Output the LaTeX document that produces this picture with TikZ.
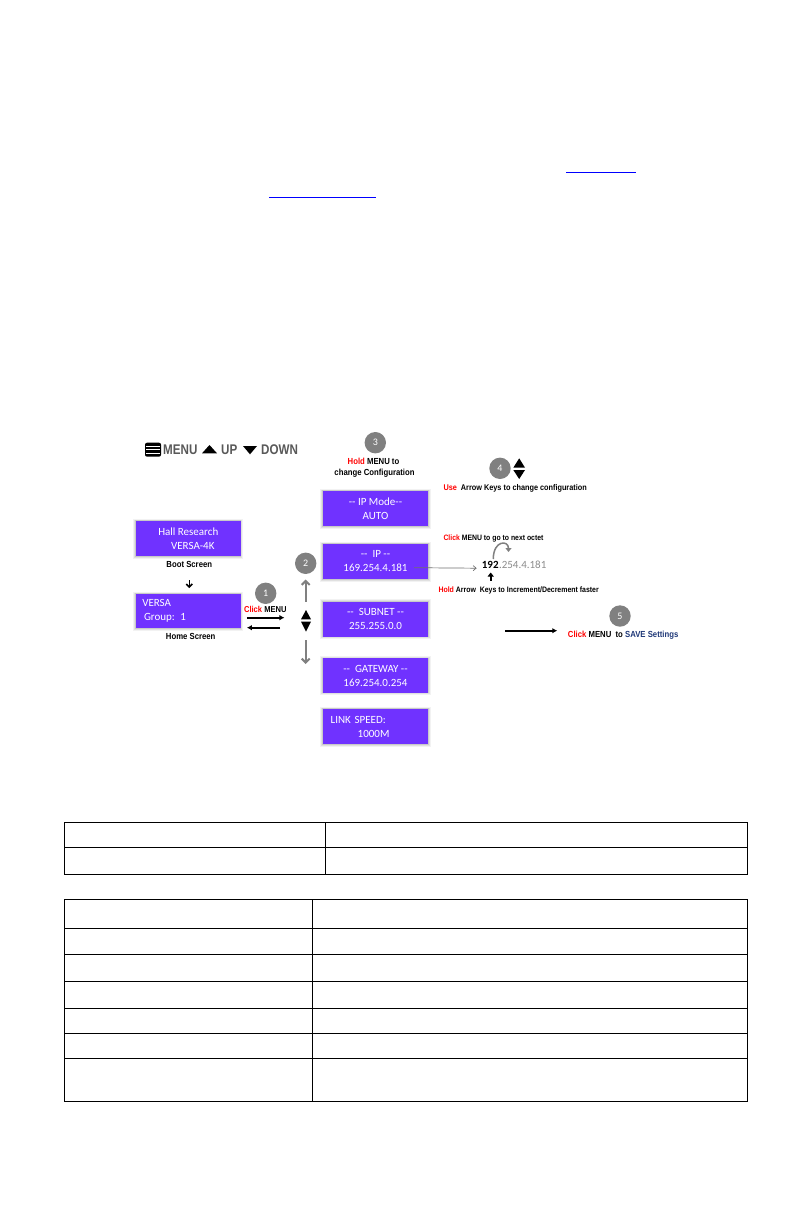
\documentclass[tikz,border=0pt]{standalone}
\usepackage{fontspec}
\setmainfont{Liberation Sans}
\newfontfamily\lblfont{Liberation Sans}[FakeStretch=0.88]
\newfontfamily\hdrfont{Liberation Sans}[FakeStretch=0.83]
\newfontfamily\boxfont{Carlito}
\usetikzlibrary{arrows.meta}
\definecolor{scr}{RGB}{112,50,255}
\definecolor{cgray}{RGB}{128,128,128}
\definecolor{agray}{RGB}{128,128,128}
\definecolor{hgray}{RGB}{89,89,89}
\definecolor{cred}{RGB}{255,0,0}
\definecolor{sblue}{RGB}{31,56,120}
\definecolor{lnk}{RGB}{0,0,255}
\definecolor{ipgray}{RGB}{140,140,140}
\tikzset{
  screen/.style={fill=scr, minimum width=105.6pt, minimum height=35pt, inner sep=0pt,
    text=white, font=\boxfont\fontsize{11}{14}\selectfont, align=center,
    preaction={draw=black, draw opacity=0.05, line width=5pt},
    preaction={draw=black, draw opacity=0.07, line width=3pt},
    preaction={draw=black, draw opacity=0.10, line width=1.5pt}},
  badge/.style={circle, fill=cgray, minimum size=21.4pt, inner sep=0pt, text=white,
    font=\boxfont\fontsize{10}{12}\selectfont},
  lbl/.style={inner sep=0pt, font=\lblfont\bfseries\fontsize{8.8}{10}\selectfont},
  hdr/.style={inner sep=0pt, text=hgray, font=\hdrfont\bfseries\fontsize{14}{16}\selectfont},
  blk/.style={line width=1.6pt, -{Latex[length=5pt,width=5.5pt]}},
  gry/.style={draw=agray, line width=2pt, -{Straight Barb[length=4pt,width=8pt]}},
  tblline/.style={line width=0.9pt},
}
\begin{document}
\begin{tikzpicture}[x=1pt,y=-1pt]
\path[use as bounding box, fill=white] (0,0) rectangle (793,1225);

% blue link underlines
\draw[lnk, line width=1pt] (566,172.7) -- (636,172.7);
\draw[lnk, line width=1pt] (269,197) -- (376,197);

% header legend
\fill[black, rounded corners=2pt] (145,442.7) rectangle (161,456.7);
\foreach \yy in {446.2,449.7,453.2}
  \draw[white, line width=0.9pt] (146.3,\yy) -- (159.7,\yy);
\node[hdr, anchor=base west] (menuword) at (163,454.5) {MENU};
\fill (202,453.3) -- (217,453.3) -- (209.5,445) -- cycle;
\node[hdr, anchor=base west] (upword) at (221,454.5) {UP};
\fill (243,446) -- (257,446) -- (250,454.3) -- cycle;
\node[hdr, anchor=base west] (downword) at (261,454.5) {DOWN};

% screens
\node[screen] (ipmode) at (375.5,508.5) {-{}- IP Mode-{}-\\AUTO};
\node[screen] (ip) at (375.5,561.5) {-{}-\ \ IP -{}-\\169.254.4.181};
\node[screen] (subnet) at (375.5,619.2) {-{}-\ \ SUBNET -{}-\\255.255.0.0};
\node[screen, minimum height=34.4pt] (gateway) at (375.5,675.5) {-{}-\ \ GATEWAY -{}-\\169.254.0.254};
\node[screen, align=left, text width=89.6pt] (linkspeed) at (375.5,726.7) {LINK SPEED:\\\hspace*{27pt}1000M};
\node[screen, minimum width=104.7pt] (hall) at (188.3,538.5) {Hall Research\\\hspace*{9pt}VERSA-4K};
\node[screen, minimum width=104.7pt, minimum height=34.3pt, align=left, text width=92pt] (versa) at (188.3,611.2) {VERSA\\\hspace*{1.7pt}Group: 1};

% left labels
\node[lbl, anchor=base] (boot) at (189.3,567.3) {Boot Screen};
\node[lbl, anchor=base] (home) at (190.7,639.6) {Home Screen};
\draw[line width=1.6pt, -{Straight Barb[length=3pt,width=6pt]}, shorten <=12.7pt, shorten >=5.7pt] (boot.south) -- (boot.south |- versa.north);

% step 1
\node[badge] (n1) at (265.7,593.3) {1};
\node[lbl, anchor=base, font=\lblfont\bfseries\fontsize{8.6}{10}\selectfont] (clickmenu) at (265.3,612.1) {\textcolor{cred}{Click} MENU};
\draw[blk] ([xshift=6pt,yshift=-6.5pt]versa.east) -- ++(37.6,0);
\draw[blk] ([xshift=39.3pt,yshift=-16.5pt]versa.east) -- ++(-33.3,0);

% step 2 : arrow keys
\coordinate (keys) at (306,620.8);
\fill (301,619.3) -- (311,619.3) -- (306,610) -- cycle;
\fill (301,621.7) -- (311,621.7) -- (306,631.7) -- cycle;
\node[badge] (n2) at (305.7,563.3) {2};
\draw[gry, shorten >=5.3pt] (305.7,601.7) -- (n2.south);
\draw[gry] (305.7,640) -- (305.7,664);

% step 3
\node[badge] (n3) at (375.3,442.7) {3};
\node[lbl, anchor=base] (hold3) at (373.5,464.5) {\textcolor{cred}{Hold} MENU to};
\node[lbl, anchor=base] (conf3) at (374.5,475.5) {change Configuration};

% step 4
\node[badge] (n4) at (500,468.3) {4};
\fill (513.3,467.7) -- (525,467.7) -- (519.2,458.3) -- cycle;
\fill (513.3,470) -- (525,470) -- (519.2,479) -- cycle;
\node[lbl, anchor=base west, font=\lblfont\bfseries\fontsize{8.3}{10}\selectfont] (use) at (443.3,490) {\textcolor{cred}{Use}\ \ Arrow Keys to change configuration};
\node[lbl, anchor=base west, font=\lblfont\bfseries\fontsize{7.8}{10}\selectfont] (clicknext) at (443.3,540) {\textcolor{cred}{Click} MENU to go to next octet};

% octet display
\node[inner sep=0pt, anchor=base west, font=\boxfont\bfseries\fontsize{11}{13}\selectfont] (oct1) at (481.7,568.5) {192};
\node[inner sep=0pt, anchor=base west, text=ipgray, font=\boxfont\fontsize{11}{13}\selectfont] (octrest) at (oct1.base east) {.254.4.181};
\coordinate (ipend) at (414,567.7);
\draw[ipgray!80!black, line width=0.7pt, -{Straight Barb[length=3pt,width=5pt]}] (ipend) -- ([xshift=-5pt,yshift=-3.3pt]oct1.west);
\draw[agray, line width=1.5pt, -{Triangle[length=4pt,width=6pt]}] (493.3,559) .. controls (493.3,540) and (508.5,540) .. (508.5,552);
\draw[line width=1.6pt, -{Triangle[length=4pt,width=6pt]}] (490.7,580.5) -- (490.7,572.5);
\node[lbl, anchor=base west, font=\lblfont\bfseries\fontsize{7.9}{10}\selectfont] (holdarrow) at (438.3,592) {\textcolor{cred}{Hold} Arrow\ \ Keys to Increment/Decrement faster};

% step 5
\node[badge] (n5) at (620,616) {5};
\coordinate (s5) at (505,630.7);
\draw[blk] (s5) -- ++(52.3,0);
\node[lbl, anchor=base west] (save) at (567.7,637.1) {\textcolor{cred}{Click} MENU\ \ to \textcolor{sblue}{SAVE Settings}};

% table 1
\draw[tblline] (64.3,822.3) rectangle (747.3,874);
\draw[tblline] (64.3,847.3) -- (747.3,847.3);
\draw[tblline] (325.7,822.3) -- (325.7,874);

% table 2
\draw[tblline] (64.3,899.3) rectangle (747.3,1101.3);
\foreach \yy in {928.3,954.3,981.3,1008.3,1033.3,1058.3}
  \draw[tblline] (64.3,\yy) -- (747.3,\yy);
\draw[tblline] (312.3,899.3) -- (312.3,1101.3);
\end{tikzpicture}
\end{document}
